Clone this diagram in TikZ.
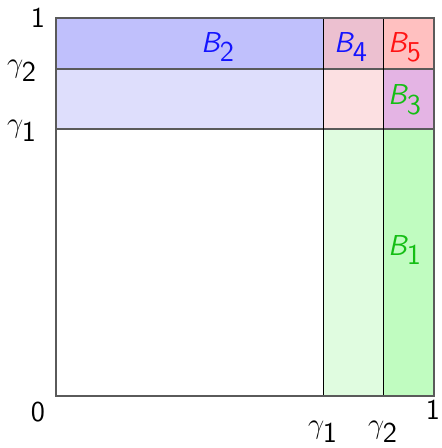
\documentclass[tikz,border=0pt]{standalone}
\usepackage{tikz}
\definecolor{cBtwo}{RGB}{192,192,252}
\definecolor{cBtwoL}{RGB}{222,222,252}
\definecolor{cBfour}{RGB}{236,192,208}
\definecolor{cBfive}{RGB}{255,192,192}
\definecolor{cMid}{RGB}{252,224,226}
\definecolor{cBthree}{RGB}{228,180,228}
\definecolor{cBone}{RGB}{192,252,192}
\definecolor{cBoneL}{RGB}{224,252,224}
\definecolor{lblgreen}{RGB}{20,190,20}
\definecolor{lblblue}{RGB}{20,20,255}
\definecolor{lblred}{RGB}{255,20,20}
\definecolor{frame}{RGB}{90,90,90}
\begin{document}
\begin{tikzpicture}[x=0.5pt,y=-0.5pt,
  lbl/.style={inner sep=0pt,font=\fontsize{14.4}{17}\selectfont\sffamily},
  region/.style={draw=none}]
\useasboundingbox (0,0) rectangle (441,448);
% regions
\fill[cBtwo]  (56,18)  rectangle (323,69);
\fill[cBtwoL] (56,69)  rectangle (323,129);
\fill[cBfour] (323,18) rectangle (383,69);
\fill[cBfive] (383,18) rectangle (434,69);
\fill[cMid]   (323,69) rectangle (383,129);
\fill[cBthree](383,69) rectangle (434,129);
\fill[cBoneL] (323,129) rectangle (383,396);
\fill[cBone]  (383,129) rectangle (434,396);
% lines
\draw[frame,line width=0.6pt] (56,69) -- (434,69);
\draw[frame,line width=0.6pt] (56,129) -- (434,129);
\draw[black,line width=0.5pt] (323,18) -- (323,396);
\draw[black,line width=0.5pt] (383,18) -- (383,396);
\draw[frame,line width=0.6pt] (56,18) rectangle (434,396);
% labels
\node[lbl,text=lblblue] (b2) at (218,47) {$\textsf{\itshape B}_{\textsf{2}}$};
\node[lbl,text=lblblue] (b4) at (351,47) {$\textsf{\itshape B}_{\textsf{4}}$};
\node[lbl,text=lblred] (b5) at (405,47) {$\textsf{\itshape B}_{\textsf{5}}$};
\node[lbl,text=lblgreen] (b3) at (405,100) {$\textsf{\itshape B}_{\textsf{3}}$};
\node[lbl,text=lblgreen] (b1) at (405,250) {$\textsf{\itshape B}_{\textsf{1}}$};
% axis labels
\node[lbl] (one) at (38,18) {1};
\node[lbl] (g2l) at (22,71) {$\gamma_{\textsf{2}}$};
\node[lbl] (g1l) at (22,131) {$\gamma_{\textsf{1}}$};
\node[lbl] (zero) at (38,412) {0};
\node[lbl] (oneb) at (433,410) {1};
\node[lbl] (g1b) at (323,432) {$\gamma_{\textsf{1}}$};
\node[lbl] (g2b) at (383,432) {$\gamma_{\textsf{2}}$};
\end{tikzpicture}
\end{document}
